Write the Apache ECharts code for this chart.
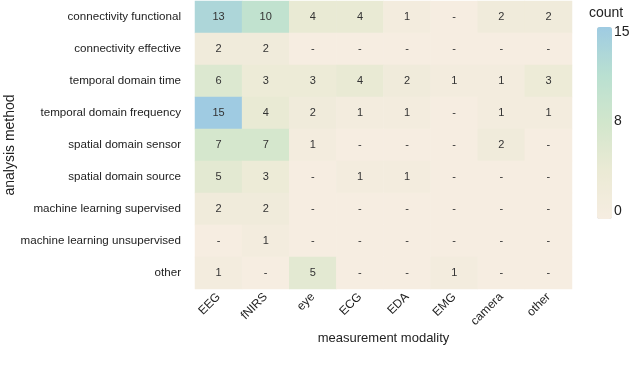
<!DOCTYPE html>
<html>
<head>
<meta charset="utf-8">
<script src="https://cdn.jsdelivr.net/npm/echarts@6/dist/echarts.min.js"></script>
<style>
  html, body { margin: 0; padding: 0; background: #fff; }
  #chart { width: 630px; height: 368px; }
</style>
</head>
<body>
<div id="chart"></div>
<script>
// measurement modalities (x) and analysis methods (y, top to bottom)
var modalities = ['EEG', 'fNIRS', 'eye', 'ECG', 'EDA', 'EMG', 'camera', 'other'];
var methods = [
  'connectivity functional',
  'connectivity effective',
  'temporal domain time',
  'temporal domain frequency',
  'spatial domain sensor',
  'spatial domain source',
  'machine learning supervised',
  'machine learning unsupervised',
  'other'
];

// counts per method row, one value per modality
var connFunctional   = [13, 10, 4, 4, 1, 0, 2, 2];
var connEffective    = [2, 2, 0, 0, 0, 0, 0, 0];
var tempTime         = [6, 3, 3, 4, 2, 1, 1, 3];
var tempFrequency    = [15, 4, 2, 1, 1, 0, 1, 1];
var spatialSensor    = [7, 7, 1, 0, 0, 0, 2, 0];
var spatialSource    = [5, 3, 0, 1, 1, 0, 0, 0];
var mlSupervised     = [2, 2, 0, 0, 0, 0, 0, 0];
var mlUnsupervised   = [0, 1, 0, 0, 0, 0, 0, 0];
var otherMethod      = [1, 0, 5, 0, 0, 1, 0, 0];

var rows = [connFunctional, connEffective, tempTime, tempFrequency, spatialSensor,
            spatialSource, mlSupervised, mlUnsupervised, otherMethod];

// colour bar ticks (min, mid, max), shown rounded
var colorTicks = [15, 7.5, 0];

var cells = [];
rows.forEach(function (row, r) {
  row.forEach(function (v, c) {
    cells.push([c, r, v]);
  });
});

var chart = echarts.init(document.getElementById('chart'));
var font = 'Liberation Sans, Arial, sans-serif';

var barTop = 27, barH = 192, barLeft = 597;
var tickText = colorTicks.map(function (t) {
  return {
    type: 'text',
    x: barLeft + 17,
    y: 32 + (15 - t) / 15 * 179,
    style: { text: String(Math.round(t)), font: '14px ' + font, fill: '#222', verticalAlign: 'middle' }
  };
});

chart.setOption({
  animation: false,
  textStyle: { fontFamily: font },
  grid: { left: 195, right: 58, top: 1, height: 288, outerBoundsMode: 'none', containLabel: false },
  xAxis: {
    type: 'category',
    data: modalities,
    name: 'measurement modality',
    nameLocation: 'middle',
    nameGap: 43,
    nameMoveOverlap: false,
    nameTextStyle: { fontSize: 13, color: '#222' },
    axisLine: { show: false },
    axisTick: { show: false },
    axisLabel: { rotate: 45, fontSize: 12, color: '#222', margin: 6 },
    splitArea: { show: false }
  },
  yAxis: {
    type: 'category',
    data: methods,
    inverse: true,
    name: 'analysis method',
    nameLocation: 'middle',
    nameGap: 178,
    nameMoveOverlap: false,
    nameTextStyle: { fontSize: 14, color: '#222' },
    axisLine: { show: false },
    axisTick: { show: false },
    axisLabel: { fontSize: 11.6, color: '#222', margin: 14 }
  },
  visualMap: {
    type: 'continuous',
    min: 0,
    max: 15,
    calculable: false,
    orient: 'vertical',
    left: barLeft,
    top: barTop,
    itemWidth: 15,
    itemHeight: barH,
    text: null,
    showLabel: false,
    padding: 0,
    inRange: { color: ['#f6ede1', '#ebead5', '#d2e6cc', '#b9e0d1', '#9fcbe2'] }
  },
  graphic: [{
    type: 'text',
    x: 589,
    y: 13,
    style: { text: 'count', font: '14px ' + font, fill: '#222', verticalAlign: 'middle' }
  }].concat(tickText),
  series: [{
    type: 'heatmap',
    data: cells,
    label: {
      show: true,
      fontSize: 11,
      color: '#333',
      formatter: function (p) { return p.value[2] === 0 ? '-' : p.value[2]; }
    },
    itemStyle: { borderWidth: 0 },
    emphasis: { disabled: true }
  }]
});
</script>
</body>
</html>
